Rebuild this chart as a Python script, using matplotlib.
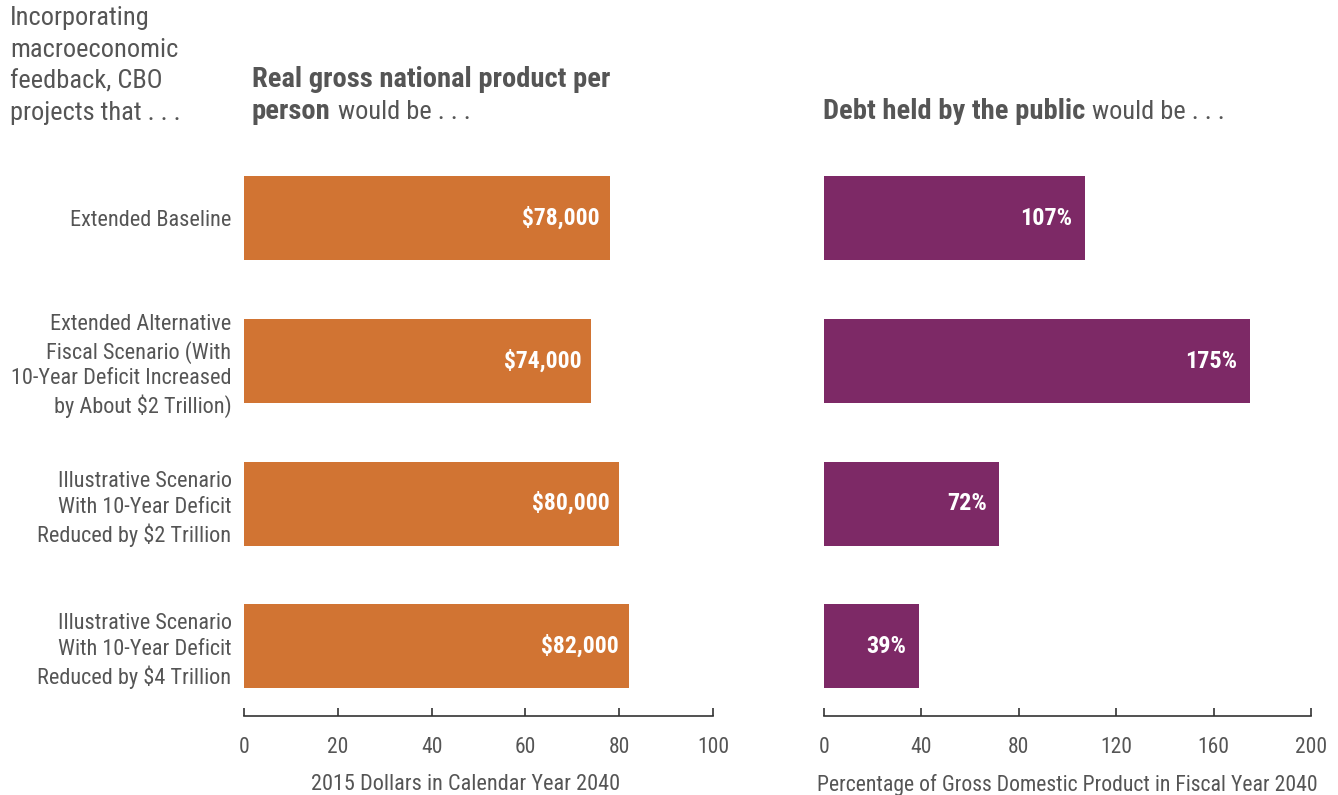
import matplotlib
matplotlib.use('Agg')
import matplotlib.pyplot as plt

plt.rcParams['font.family'] = ['Roboto Condensed', 'DejaVu Sans']

TEXT = '#555555'
ORANGE = '#D17433'
PURPLE = '#7D2966'

scenarios = [
    'Extended Baseline',
    'Extended Alternative\nFiscal Scenario (With\n10-Year Deficit Increased\nby About $2 Trillion)',
    'Illustrative Scenario\nWith 10-Year Deficit\nReduced by $2 Trillion',
    'Illustrative Scenario\nWith 10-Year Deficit\nReduced by $4 Trillion',
]
gnp = [78, 74, 80, 82]  # thousands of 2015 dollars
gnp_labels = ['$78,000', '$74,000', '$80,000', '$82,000']
debt = [107, 175, 72, 39]  # percent of GDP
debt_labels = ['107%', '175%', '72%', '39%']

gnp_ticks = [0, 20, 40, 60, 80, 100]
debt_ticks = [0, 40, 80, 120, 160, 200]

fig = plt.figure(figsize=(13.38, 7.95), dpi=100)
ax1 = fig.add_axes([244 / 1338, 1 - 716 / 795, 469 / 1338, 566 / 795])
ax2 = fig.add_axes([824 / 1338, 1 - 716 / 795, 487 / 1338, 566 / 795])

ypos = list(range(len(scenarios)))


def style(ax, ticks, xlabel, size):
    for s in ['top', 'right', 'left']:
        ax.spines[s].set_visible(False)
    ax.spines['bottom'].set_color('#333333')
    ax.spines['bottom'].set_linewidth(1.2)
    ax.set_xlim(ticks[0], ticks[-1])
    ax.set_xticks(ticks)
    ax.set_ylim(3.49, -0.48)
    ax.tick_params(axis='x', direction='in', length=6, width=1.2, color='#333333',
                   labelsize=15.5, labelcolor=TEXT, pad=15)
    ax.set_xlabel(xlabel, fontsize=size, color=TEXT, labelpad=12)


ax1.barh(ypos, gnp, height=0.59, color=ORANGE)
for y, v, lab in zip(ypos, gnp, gnp_labels):
    ax1.annotate(lab, (v, y), xytext=(-7, 0), textcoords='offset points',
                 ha='right', va='center', color='white', fontsize=17, fontweight='bold')
style(ax1, gnp_ticks, '2015 Dollars in Calendar Year 2040', 16)
ax1.xaxis.label.set_x(0.473)
ax1.set_yticks(ypos)
ax1.set_yticklabels(scenarios, fontsize=16, color=TEXT, linespacing=1.3)
ax1.tick_params(axis='y', length=0, pad=9)
for lab in ax1.get_yticklabels():
    lab.set_y(lab.get_position()[1])

ax2.barh(ypos, debt, height=0.59, color=PURPLE)
for y, v, lab in zip(ypos, debt, debt_labels):
    ax2.annotate(lab, (v, y), xytext=(-9, 0), textcoords='offset points',
                 ha='right', va='center', color='white', fontsize=17.5, fontweight='bold')
style(ax2, debt_ticks, 'Percentage of Gross Domestic Product in Fiscal Year 2040', 15.7)
ax2.set_yticks([])

# header text
fig.text(10 / 1338, 1 - 6 / 795,
         'Incorporating\nmacroeconomic\nfeedback, CBO\nprojects that . . .',
         ha='left', va='top', fontsize=19, color=TEXT, linespacing=1.4)

renderer = fig.canvas.get_renderer()


def mixed(x, y, bold, regular):
    t = fig.text(x, y, bold, ha='left', va='baseline', fontsize=20.5,
                 fontweight='bold', color=TEXT)
    bb = t.get_window_extent(renderer=renderer)
    fig.text(bb.x1 / fig.bbox.width + 7 / 1338, y, regular, ha='left', va='baseline',
             fontsize=19, color=TEXT)


fig.text(252 / 1338, 1 - 87 / 795, 'Real gross national product per', ha='left',
         va='baseline', fontsize=20.5, fontweight='bold', color=TEXT)
mixed(252 / 1338, 1 - 119 / 795, 'person', 'would be . . .')
mixed(823 / 1338, 1 - 119 / 795, 'Debt held by the public', 'would be . . .')

fig.savefig('out.png', dpi=100)
